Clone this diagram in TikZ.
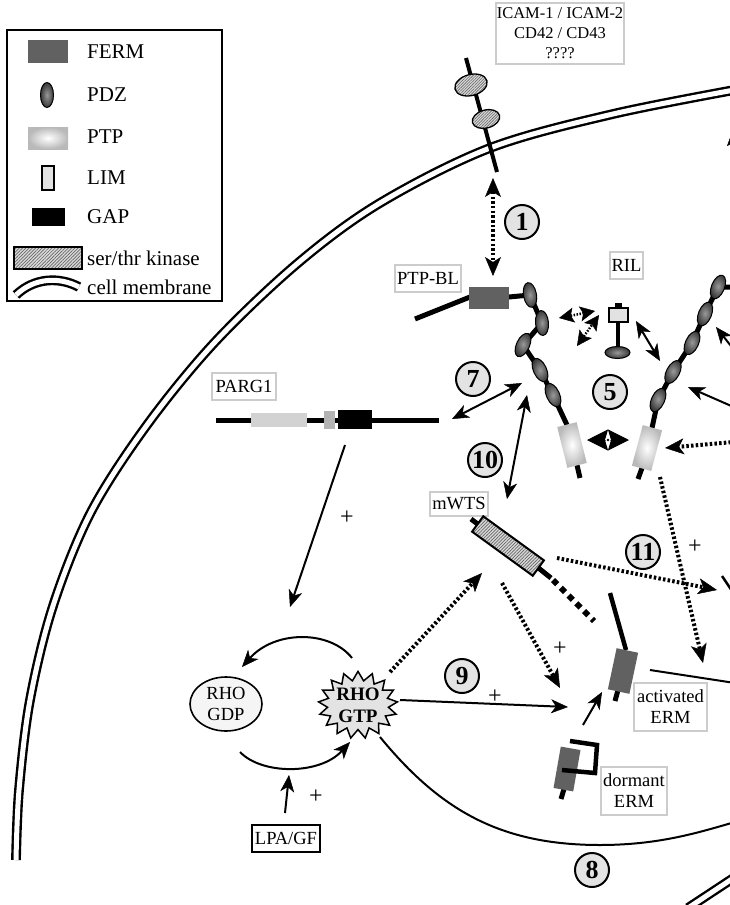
\documentclass[tikz,border=0pt]{standalone}
\usepackage{fontspec}
\setmainfont{Liberation Serif}
\usetikzlibrary{arrows.meta,shapes.geometric,shapes.symbols,patterns.meta}

\newcommand\fLeg{\fontsize{21}{24}\selectfont}
\newcommand\fLab{\fontsize{18.5}{21}\selectfont}
\newcommand\fIcam{\fontsize{16.5}{20}\selectfont}
\newcommand\fNum{\fontsize{26}{28}\selectfont\bfseries}
\newcommand\fPlus{\fontsize{24}{26}\selectfont}
\newcommand\fGtp{\fontsize{19}{22}\selectfont\bfseries}

\tikzset{
  Bhd/.tip={Stealth[length=17pt,width=14pt,inset=5pt,line width=0.5pt]},
  Dhd/.tip={Stealth[length=19pt,width=16pt,inset=5pt,line width=0.5pt]},
  Shd/.tip={Stealth[length=15pt,width=15pt,inset=3pt,line width=0.5pt]},
  lab/.style={draw=gray!40, line width=1.6pt, fill=white, inner sep=1pt, font=\fLab, align=center},
  num/.style={circle, draw, line width=2pt, fill=gray!22, minimum size=34pt, inner sep=0pt, font=\fNum},
  plus/.style={font=\fPlus, inner sep=0pt},
  arr/.style={line width=2pt, arrows={-Bhd}},
  darr/.style={line width=2pt, arrows={Bhd-Bhd}},
  dotarr/.style={line width=4pt, dash pattern=on 2.5pt off 2.2pt, arrows={-Dhd}},
  dotdarr/.style={line width=4pt, dash pattern=on 2.5pt off 2.2pt, arrows={Dhd-Dhd}},
  smalldarr/.style={line width=2.5pt, dash pattern=on 1.5pt off 1.5pt, arrows={Shd-Shd}},
  membrane/.style={line width=2.4pt, double=white, double distance=5pt},
  chain/.style={line width=5pt, line join=round},
  ferm/.style={rectangle, fill=black!62, inner sep=0pt},
  pdz/.style={ellipse, draw, line width=1pt, inner color=black!40, outer color=black!78,
              minimum width=13pt, minimum height=25pt, inner sep=0pt},
  ptp/.style={rectangle, inner color=white, outer color=gray!55, inner sep=0pt},
  lim/.style={rectangle, draw, line width=1.3pt, preaction={fill=gray!12},
              pattern={Dots[distance=2pt,radius=0.45pt]}, pattern color=black!70, inner sep=0pt},
  gapd/.style={rectangle, fill=black, inner sep=0pt},
  kin/.style={rectangle, draw, line width=2pt, preaction={fill=gray!30},
              pattern={Lines[angle=45,distance=2.3pt,line width=0.7pt]}, pattern color=black!60, inner sep=0pt},
  icamd/.style={ellipse, draw, line width=1.3pt, preaction={fill=gray!30},
              pattern={Lines[angle=45,distance=2pt,line width=0.6pt]}, pattern color=black!60, inner sep=0pt},
  legtxt/.style={anchor=west, inner sep=0pt, font=\fLeg},
}

\begin{document}
\begin{tikzpicture}[x=1pt,y=-1pt]
\useasboundingbox (0,0) rectangle (730,905);
\clip (0,0) rectangle (730,905);

% ---------------- cell membrane ----------------
\draw[membrane] plot[smooth, tension=0.55] coordinates {(745,88) (613,114) (490,148) (380,203) (298,263) (215,342) (147,425) (91,512) (53,606) (30,700) (19,790) (16,860)};
\draw[membrane] (688,908) -- (735,877);

% ---------------- legend ----------------
\draw[line width=2pt] (7,30) rectangle (222,301);
\node[ferm, minimum width=40pt, minimum height=23pt] (lgFerm) at (48,51) {};
\node[legtxt] (lgFermT) at (87,52) {FERM};
\node[pdz] (lgPdz) at (47,95) {};
\node[legtxt] (lgPdzT) at (87,95) {PDZ};
\node[ptp, minimum width=40pt, minimum height=22pt] (lgPtp) at (48,138) {};
\node[legtxt] (lgPtpT) at (87,137) {PTP};
\node[lim, minimum width=12pt, minimum height=24pt] (lgLim) at (48,178) {};
\node[legtxt] (lgLimT) at (87,178) {LIM};
\node[gapd, minimum width=33pt, minimum height=18pt] (lgGap) at (48.5,217) {};
\node[legtxt] (lgGapT) at (87,217) {GAP};
\node[kin, minimum width=68pt, minimum height=22pt] (lgKin) at (48,258) {};
\node[legtxt] (lgKinT) at (87,258) {ser/thr kinase};
\draw[membrane] (16,295) .. controls (35,277) and (60,277) .. (79,287);
\node[legtxt] (lgMemT) at (87,287) {cell membrane};

% ---------------- adhesion receptor ----------------
\node[lab, font=\fIcam, minimum width=128pt, minimum height=61pt] (icam) at (560,33.5) {ICAM-1 / ICAM-2\\CD42 / CD43\\????};
\coordinate (tmTop) at (466,58);
\coordinate (tmBot) at (497,172);
\draw[line width=4pt] (tmTop) -- (tmBot);
\node[icamd, minimum width=33pt, minimum height=21pt, rotate=15] (ig1) at (471,85) {};
\node[icamd, minimum width=28pt, minimum height=18pt, rotate=15] (ig2) at (486,119) {};
\coordinate (a1t) at (493,178);
\coordinate (a1b) at (493,276);
\draw[dotdarr] (a1t) -- (a1b);
\node[num] (n1) at (522,222) {1};

% ---------------- PTP-BL (two arms) ----------------
\node[lab, minimum width=66pt, minimum height=27pt] (ptpbl) at (428,278.5) {PTP-BL};
\draw[chain] (415,319) -- (470,297) -- (509,297) -- (530,295) -- (542,323) -- (523,345) -- (540,370) -- (553,395) -- (567,425);
\draw[chain] (577,465) -- (580,478);
\node[ferm, minimum width=40pt, minimum height=22pt] (blFerm) at (489,298) {};
\node[pdz, rotate=10] (lp1) at (530,295) {};
\node[pdz, rotate=5] (lp2) at (542,323) {};
\node[pdz, rotate=-25] (lp3) at (523,345) {};
\node[pdz, rotate=25] (lp4) at (540,370) {};
\node[pdz, rotate=25] (lp5) at (553,395) {};
\node[ptp, minimum width=20pt, minimum height=42pt, rotate=14] (ptpL) at (572,445) {};

\draw[chain] (745,287) -- (718,287) -- (705,314) -- (692,343) -- (673,372) -- (658,400) -- (652,428);
\draw[chain] (642,468) -- (638,479);
\node[pdz, rotate=-22] (rp1) at (718,287) {};
\node[pdz, rotate=-22] (rp2) at (705,314) {};
\node[pdz, rotate=-25] (rp3) at (692,343) {};
\node[pdz, rotate=-28] (rp4) at (673,372) {};
\node[pdz, rotate=-25] (rp5) at (658,400) {};
\node[ptp, minimum width=20pt, minimum height=42pt, rotate=-15] (ptpR) at (647,448) {};

% dimerisation of the PTP domains
\coordinate (dmL) at (587,440);
\coordinate (dmR) at (629,440);
\draw[line width=1pt, arrows={Stealth[length=21pt,width=21pt,inset=3pt]-Stealth[length=21pt,width=21pt,inset=3pt]}] (dmL) -- (dmR);
\fill[white] (608,440) ellipse (2.5 and 4.5);
\fill (608,440) circle (1.3);
\node[num] (n5) at (610,392) {5};

% ---------------- RIL ----------------
\node[lab, minimum width=33pt, minimum height=27pt] (ril) at (626.5,265.5) {RIL};
\draw[line width=3.5pt] (618,322) -- (618,348);
\fill (615,303) rectangle (622,309);
\node[lim, minimum width=19pt, minimum height=14pt] (rilLim) at (618.5,315) {};
\node[pdz, minimum width=25pt, minimum height=12pt] (rilPdz) at (617.5,352.5) {};
\coordinate (rA1) at (559,318);
\coordinate (rA2) at (595,311);
\coordinate (rB1) at (577,346);
\coordinate (rB2) at (599,315);
\draw[smalldarr] (rA1) -- (rA2);
\draw[smalldarr] (rB1) -- (rB2);
\coordinate (rC1) at (636,321);
\coordinate (rC2) at (660,361);
\draw[darr] (rC1) -- (rC2);

% inputs from the right
\coordinate (eA) at (745,412);
\coordinate (eA2) at (688,387);
\draw[arr] (eA) -- (eA2);
\coordinate (eB) at (742,360);
\coordinate (eB2) at (716,327);
\draw[arr] (eB) -- (eB2);
\coordinate (eC) at (745,441);
\coordinate (eC2) at (665,448);
\draw[dotarr] (eC) -- (eC2);
\coordinate (eD) at (760,110);
\coordinate (eD2) at (727,146);
\draw[arr] (eD) -- (eD2);

% ---------------- 7 and 10 ----------------
\node[num] (n7) at (473,379) {7};
\coordinate (a7a) at (452,419);
\coordinate (a7b) at (522,383);
\draw[darr] (a7a) -- (a7b);
\node[num] (n10) at (485,460) {10};
\coordinate (a10a) at (527,395);
\coordinate (a10b) at (507,499);
\draw[darr] (a10a) -- (a10b);

% ---------------- PARG1 ----------------
\node[lab, minimum width=64pt, minimum height=27pt] (parg) at (244,386.5) {PARG1};
\draw[line width=5pt] (216,420) -- (439,420);
\node[rectangle, fill=gray!35, minimum width=56pt, minimum height=14pt, inner sep=0pt] (pgPtp) at (279,420) {};
\node[rectangle, fill=gray!60, minimum width=11pt, minimum height=18pt, inner sep=0pt] (pgLim) at (329.5,420) {};
\node[gapd, minimum width=34pt, minimum height=19pt] (pgGap) at (355,419.5) {};
\coordinate (pgOut) at (345,445);
\coordinate (pgIn) at (290,607);
\draw[arr] (pgOut) -- (pgIn);
\node[plus] (plA) at (347,518) {+};

% ---------------- mWTS ----------------
\node[lab, minimum width=58pt, minimum height=24pt] (mwts) at (459,504) {mWTS};
\draw[line width=5pt] (479,525) -- (471,519);
\draw[line width=5pt] (536,566) -- (551,578);
\draw[line width=6pt, dash pattern=on 6pt off 5pt] (553,580) -- (594,621);
\node[kin, minimum width=75pt, minimum height=19pt, rotate=-36] (wts) at (508,546) {};

% ---------------- 11 ----------------
\coordinate (a11a) at (557,558);
\coordinate (a11b) at (717,590);
\draw[dotarr] (a11a) -- (a11b);
\node[num] (n11) at (643,552) {11};
\node[plus] (plB) at (695,547) {+};
\draw[line width=2.5pt] (722,576) -- (734,594);
\coordinate (ptOut) at (660,477);
\coordinate (ptIn) at (703,663);
\draw[dotarr] (ptOut) -- (ptIn);

% ---------------- RHO cycle ----------------
\node[ellipse, draw, line width=1.6pt, fill=gray!8, minimum width=72pt, minimum height=54pt, inner sep=0pt, align=center, font=\fLab] (gdp) at (226,704) {RHO\\GDP};
\node[starburst, starburst points=17, starburst point height=9pt, random starburst=0, draw, line width=1.5pt, fill=gray!22, minimum width=78pt, minimum height=60pt, inner sep=0pt, align=center, font=\fGtp] (gtp) at (358,705) {RHO\\GTP};
\coordinate (cyA) at (352,658);
\coordinate (cyB) at (242,667);
\draw[arr] (cyA) .. controls (330,630) and (275,630) .. (cyB);
\coordinate (cyC) at (240,752);
\coordinate (cyD) at (350,742);
\draw[arr] (cyC) .. controls (262,775) and (320,775) .. (cyD);
\node[lab, draw=black, line width=2pt, minimum width=68pt, minimum height=27pt] (lpa) at (286,838.5) {LPA/GF};
\coordinate (lpOut) at (285,813);
\coordinate (lpIn) at (289,775);
\draw[arr] (lpOut) -- (lpIn);
\node[plus] (plC) at (316,797) {+};

% ---------------- 9 ----------------
\node[num] (n9) at (462,676) {9};
\coordinate (a9a) at (400,700);
\coordinate (a9b) at (568,707);
\draw[arr] (a9a) -- (a9b);
\node[plus] (plD) at (495,697) {+};
\coordinate (gwA) at (390,672);
\coordinate (gwB) at (482,573);
\draw[dotarr] (gwA) -- (gwB);
\coordinate (weA) at (502,583);
\coordinate (weB) at (560,688);
\draw[dotarr] (weA) -- (weB);
\node[plus] (plE) at (560,649) {+};

% ---------------- ERM ----------------
\draw[line width=4.5pt] (610,593) -- (626,650);
\draw[line width=5pt] (618,690) -- (615,701);
\node[ferm, minimum width=22pt, minimum height=42pt, rotate=-12] (ermA) at (623,671) {};
\draw[line width=2pt] (650,670) -- (735,683);
\node[lab, minimum width=73pt, minimum height=48pt] (ermAlab) at (670.5,707) {activated\\ERM};
\coordinate (daA) at (583,725);
\coordinate (daB) at (602,692);
\draw[arr] (daA) -- (daB);

\draw[line width=5pt] (564,789) -- (561,799);
\node[ferm, minimum width=20pt, minimum height=42pt, rotate=-10] (ermD) at (567,769) {};
\draw[line width=4.5pt] (570,741) -- (597,745) -- (595,773) -- (562,770);
\node[lab, minimum width=66pt, minimum height=48pt] (ermDlab) at (634,791) {dormant\\ERM};

% ---------------- 8 ----------------
\coordinate (c8a) at (380,737);
\coordinate (c8m) at (600,845);
\coordinate (c8b) at (735,822);
\draw[line width=2pt] (c8a) .. controls (440,810) and (500,845) .. (c8m) .. controls (660,845) and (700,832) .. (c8b);
\node[num] (n8) at (592,870) {8};

\end{tikzpicture}
\end{document}
